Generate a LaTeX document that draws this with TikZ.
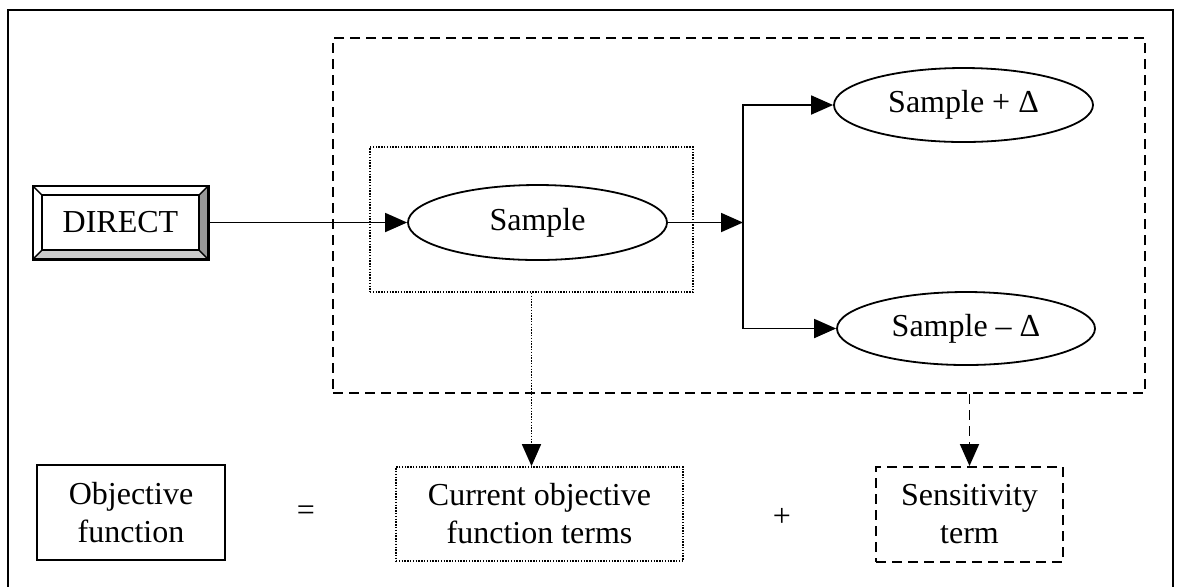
\documentclass[tikz,border=0pt]{standalone}
\usepackage{fontspec}
\setmainfont{Liberation Serif}
\usetikzlibrary{arrows.meta,shapes.geometric}
\begin{document}
\begin{tikzpicture}[x=0.5pt,y=-0.5pt,
  every node/.style={font=\fontsize{16}{19}\selectfont, align=center},
  arr/.style={-{Triangle[length=11pt,width=9.5pt]}, line width=0.9pt},
  ell/.style={ellipse, draw, line width=0.9pt, inner sep=0pt},
  plainbox/.style={draw, line width=1pt, inner sep=0pt},
  dotbox/.style={draw, line width=0.9pt, dash pattern=on 0.7pt off 0.7pt, inner sep=0pt},
  dashbox/.style={draw, line width=1pt, dash pattern=on 5pt off 3pt, inner sep=0pt},
  dotline/.style={dash pattern=on 0.7pt off 0.7pt},
  dashline/.style={dash pattern=on 5pt off 3pt},
]
\useasboundingbox (0,0) rectangle (1177,586);
% outer frame (open at the bottom)
\draw[line width=1.1pt] (8,600) -- (8,10) -- (1173,10) -- (1173,600);

% groups
\node[dashbox, minimum width=406pt, minimum height=177.5pt] (group) at (739,215.5) {};
\node[dotbox, minimum width=161.5pt, minimum height=72.5pt] (dotb) at (531.5,219.5) {};

% ellipses
\node[ell, minimum width=129.5pt, minimum height=37.5pt] (sample) at (537.5,222.5) {Sample};
\node[ell, minimum width=129.5pt, minimum height=37pt] (splus) at (963.5,105) {Sample + Δ};
\node[ell, minimum width=129pt, minimum height=36.5pt] (sminus) at (966,328.5) {Sample – Δ};

% DIRECT bevel button
\node[minimum width=87.5pt, minimum height=36.5pt, inner sep=0pt] (direct) at (120.5,222.5) {};
\coordinate (o1) at (direct.north west);
\coordinate (o2) at (direct.north east);
\coordinate (o3) at (direct.south east);
\coordinate (o4) at (direct.south west);
\coordinate (i1) at ([shift={(9.5,9.5)}]direct.north west);
\coordinate (i2) at ([shift={(-9.5,9.5)}]direct.north east);
\coordinate (i3) at ([shift={(-9.5,-9.5)}]direct.south east);
\coordinate (i4) at ([shift={(9.5,-9.5)}]direct.south west);
\fill[gray!80] (o2) -- (o3) -- (i3) -- (i2) -- cycle;
\fill[gray!40] (o3) -- (o4) -- (i4) -- (i3) -- cycle;
\draw[line width=1.1pt] (o1) rectangle (o3);
\draw[line width=1pt] (i1) rectangle (i3);
\draw[line width=0.7pt] (o1) -- (i1) (o2) -- (i2) (o3) -- (i3) (o4) -- (i4);
\node (directlbl) at (direct.center) {DIRECT};

% connectors
\coordinate (br) at (743,222.5);
\draw[arr] (direct.east) -- (sample.west);
\draw[arr] (sample.east) -- (br);
\draw[arr] (br) |- (splus.west);
\draw[arr] (br) |- (sminus.west);

% bottom row
\node[plainbox, minimum width=94pt, minimum height=47.5pt] (obj) at (131,512.5) {Objective\\function};
\node (eq) at (306,513) {=};
\node[dotbox, minimum width=143.5pt, minimum height=47pt] (cur) at (539.5,514) {Current objective\\function terms};
\node (plus) at (782,517) {+};
\node[dashbox, minimum width=93.5pt, minimum height=47.5pt] (sens) at (969.5,514.5) {Sensitivity\\term};

\draw[arr, dotline] (dotb.south) -- (dotb.south |- cur.north);
\draw[arr, dashline] (sens.north |- group.south) -- (sens.north);
\end{tikzpicture}
\end{document}
